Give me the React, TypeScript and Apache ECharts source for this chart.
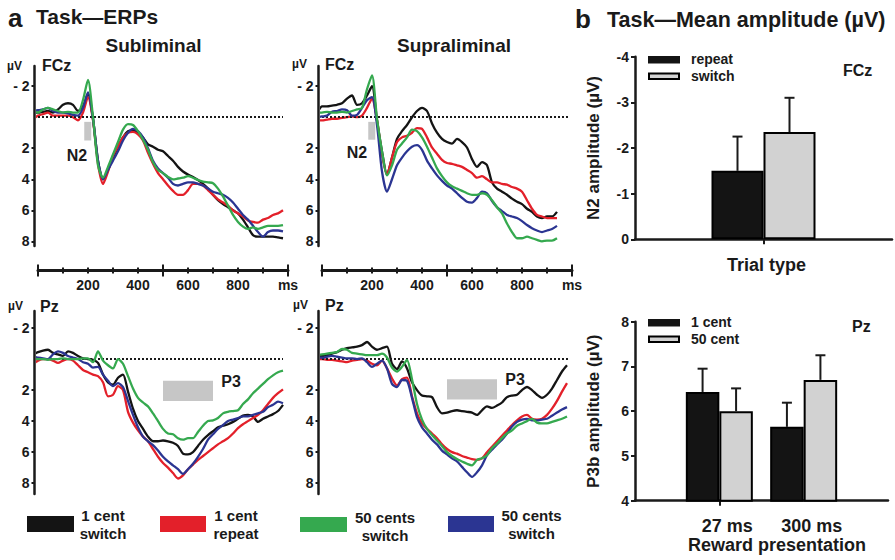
import React, { useEffect, useRef } from 'react';
import * as echarts from 'echarts';

// ---------- DATA ----------
const times = [-60, -40, -20, 0, 20, 40, 60, 80, 100, 120, 140, 160, 180, 200, 220, 240, 260, 280, 300, 320, 340, 360, 380, 400, 420, 440, 460, 480, 500, 520, 540, 560, 580, 600, 620, 640, 660, 680, 700, 720, 740, 760, 780, 800, 820, 840, 860, 880, 900, 920, 940, 960, 980];

// Subliminal, FCz
const subFczBlack = [-0.1, -0.2, -0.3, -0.3, -0.35, -0.4, -0.3, -0.5, -0.8, -0.9, -0.8, -0.4, -0.7, -1.5, 0.1, 2.8, 4.0, 3.4, 2.6, 1.9, 1.3, 0.9, 0.85, 1.0, 1.3, 1.75, 1.9, 2.1, 2.2, 2.5, 2.8, 3.2, 3.5, 3.7, 3.85, 4.05, 4.3, 4.6, 5.0, 5.35, 5.6, 5.8, 6.0, 6.2, 6.6, 7.1, 7.6, 7.7, 7.7, 7.7, 7.7, 7.75, 7.8];
const subFczRed = [0.1, 0.2, 0.1, -0.1, -0.2, -0.3, -0.1, -0.1, -0.1, -0.1, 0.0, 0.2, -0.3, -1.3, 0.2, 3.0, 4.3, 3.5, 2.5, 1.9, 1.3, 1.0, 0.95, 1.1, 1.5, 2.3, 3.0, 3.6, 4.0, 4.4, 4.75, 5.0, 5.0, 4.7, 4.3, 4.3, 4.4, 4.7, 5.0, 5.3, 5.5, 5.7, 6.0, 6.2, 6.4, 6.65, 6.75, 6.8, 6.6, 6.5, 6.3, 6.2, 6.0];
const subFczBlue = [-0.2, -0.3, -0.4, -0.45, -0.5, -0.6, -0.4, -0.3, -0.3, -0.25, -0.15, -0.1, -0.6, -1.6, 0.1, 2.8, 4.0, 3.4, 2.8, 2.2, 1.5, 1.0, 0.75, 0.9, 1.3, 2.0, 2.8, 3.3, 3.6, 3.9, 4.3, 4.4, 4.3, 4.2, 4.2, 4.3, 4.4, 4.6, 4.8, 4.9, 5.0, 5.2, 5.5, 5.9, 6.3, 6.6, 7.0, 7.4, 7.7, 7.4, 7.3, 7.3, 7.35];
const subFczGreen = [-0.3, -0.4, -0.4, -0.3, -0.5, -0.6, -0.5, -0.4, -0.3, -0.35, -0.3, -0.3, -1.1, -2.4, 0.0, 3.1, 3.9, 3.2, 2.4, 1.6, 0.8, 0.45, 0.5, 0.9, 1.45, 2.1, 2.9, 3.4, 3.6, 3.85, 4.0, 3.95, 3.9, 3.8, 3.9, 4.05, 4.15, 4.2, 4.25, 4.6, 5.1, 5.7, 6.3, 6.75, 7.05, 7.2, 7.1, 7.2, 7.1, 7.0, 7.0, 7.0, 6.95];

// Supraliminal, FCz
const supFczBlack = [0.0, -0.1, -0.3, -0.7, -0.7, -0.75, -0.8, -0.9, -1.2, -1.4, -0.8, -0.9, -1.4, -2.0, 0.2, 2.2, 3.7, 2.6, 1.4, 0.9, 0.5, 0.0, -0.4, -0.6, -0.4, 0.4, 1.0, 1.4, 1.6, 1.7, 1.4, 1.6, 1.95, 2.7, 3.2, 2.9, 3.1, 4.2, 4.6, 4.8, 5.0, 5.25, 5.45, 5.6, 5.9, 6.1, 6.4, 6.5, 6.4, 6.4, 6.1, null, null];
const supFczRed = [0.15, 0.2, 0.2, 0.2, 0.15, 0.1, 0.1, 0.05, 0.0, -0.05, 0.0, -0.1, -0.6, -1.2, 0.2, 2.4, 3.7, 2.6, 1.6, 1.3, 1.2, 1.0, 0.7, 0.75, 1.3, 1.95, 2.35, 2.75, 2.95, 3.0, 3.1, 3.2, 3.4, 3.6, 3.9, 3.8, 4.0, 4.2, 4.2, 4.3, 4.35, 4.5, 4.6, 4.8, 5.35, 5.9, 6.3, 6.4, 6.5, 6.5, 6.5, null, null];
const supFczBlue = [-0.35, -0.15, 0.0, -0.05, -0.1, -0.35, -0.4, -0.5, -0.45, -0.1, -0.15, -0.6, -1.1, -1.3, 0.5, 3.5, 4.8, 4.0, 3.1, 2.6, 2.2, 1.9, 1.8, 2.1, 2.8, 3.3, 3.75, 4.1, 4.4, 4.6, 4.9, 5.2, 5.45, 5.5, 5.2, 4.8, 4.9, 5.4, 5.8, 6.05, 6.3, 6.4, 6.5, 6.7, 6.95, 7.15, 7.3, 7.4, 7.3, 7.2, 7.0, null, null];
const supFczGreen = [-0.1, -0.2, -0.3, -0.3, -0.35, -0.3, -0.3, -0.35, -0.3, -0.4, -0.5, -0.6, -1.8, -2.7, 0.1, 2.2, 3.75, 3.1, 2.1, 1.7, 1.3, 0.8, 0.9, 1.3, 1.9, 2.6, 3.3, 3.8, 4.2, 4.45, 4.6, 4.75, 4.9, 5.0, 5.0, 4.9, 5.0, 5.35, 5.8, 6.2, 6.85, 7.4, 7.8, 7.8, 7.7, 7.8, 7.9, 8.0, 7.95, 7.95, 7.8, null, null];

// Subliminal, Pz
const subPzBlack = [-0.2, -0.25, -0.3, -0.45, -0.55, -0.6, -0.4, -0.3, -0.2, -0.5, -0.4, -0.2, -0.05, 0.0, 0.05, 0.25, 1.0, 1.5, 1.65, 1.2, 1.0, 2.1, 3.2, 4.0, 4.5, 5.0, 5.3, 5.3, 5.25, 5.3, 5.4, 5.6, 6.1, 6.15, 6.0, 5.6, 5.2, 4.9, 4.65, 4.4, 4.3, 4.2, 4.05, 3.85, 3.65, 3.6, 3.7, 4.05, 3.85, 3.7, 3.55, 3.35, 2.95];
const subPzRed = [0.05, 0.1, 0.3, 0.1, 0.0, 0.0, 0.1, 0.25, 0.1, 0.0, 0.1, 0.4, 0.7, 0.85, 1.0, 1.1, 1.5, 2.4, 2.3, 1.75, 2.0, 3.4, 4.1, 4.6, 5.0, 5.3, 5.8, 6.3, 6.7, 7.0, 7.35, 7.7, 7.5, 7.1, 6.8, 6.5, 6.25, 6.0, 5.75, 5.5, 5.3, 5.1, 4.8, 4.45, 4.2, 4.0, 3.8, 3.6, 3.3, 2.9, 2.5, 2.2, 1.95];
const subPzBlue = [-0.1, -0.1, -0.15, -0.1, -0.05, 0.0, -0.3, -0.5, -0.4, -0.2, -0.1, 0.0, 0.2, 0.3, 0.55, 0.5, 1.0, 1.4, 1.75, 1.55, 1.8, 2.7, 3.6, 4.4, 5.0, 5.3, 5.55, 5.9, 6.3, 6.6, 6.85, 7.1, 7.4, 7.1, 6.75, 6.3, 5.8, 5.2, 4.85, 4.5, 4.25, 4.0, 3.9, 3.8, 3.7, 3.7, 3.6, 3.5, 3.4, 3.1, 2.95, 2.75, 2.85];
const subPzGreen = [-0.35, -0.15, -0.05, 0.0, 0.0, 0.05, 0.0, 0.0, -0.05, 0.0, 0.0, 0.0, -0.05, -0.05, 0.2, -0.5, 0.1, 0.4, 0.6, 0.0, 0.3, 1.1, 1.9, 2.5, 2.8, 3.05, 3.5, 4.0, 4.5, 4.8, 4.85, 5.1, 5.2, 5.1, 5.1, 4.7, 4.3, 4.0, 3.95, 3.8, 3.5, 3.4, 3.35, 3.3, 2.9, 2.6, 2.2, 1.9, 1.6, 1.3, 1.05, 0.85, 0.75];

// Supraliminal, Pz
const supPzBlack = [0.0, -0.05, -0.15, -0.2, -0.25, -0.35, -0.45, -0.6, -0.7, -0.75, -0.8, -0.9, -1.1, -0.8, -0.6, -0.7, -0.8, 0.3, 0.65, 0.15, 0.6, 1.5, 2.0, 2.35, 2.4, 2.45, 3.1, 3.5, 3.45, 3.35, 3.3, 3.35, 3.4, 3.45, 3.6, 3.3, 3.05, 3.15, 3.0, 2.8, 2.45, 2.35, 2.3, 2.0, 1.8, 2.0, 2.3, 2.5, 2.3, 1.9, 1.35, 0.8, 0.4];
const supPzRed = [0.0, 0.0, 0.0, 0.0, 0.05, 0.05, 0.1, 0.15, 0.2, 0.1, 0.05, 0.0, 0.1, 0.3, 0.4, 0.1, 0.6, 1.25, 1.7, 1.3, 1.2, 2.4, 3.5, 4.15, 4.5, 4.8, 5.1, 5.5, 5.8, 6.0, 6.1, 6.25, 6.35, 6.45, 6.5, 6.4, 6.0, 5.65, 5.3, 4.95, 4.6, 4.25, 3.95, 3.7, 3.6, 3.85, 3.9, 3.85, 3.6, 3.2, 2.7, 2.1, 1.55];
const supPzBlue = [0.0, -0.05, -0.1, -0.1, -0.15, -0.2, -0.15, -0.1, -0.05, -0.05, 0.0, -0.05, 0.2, 0.5, 0.3, 0.1, 0.6, 1.6, 1.8, 1.35, 1.4, 2.5, 3.75, 4.4, 4.8, 5.2, 5.5, 5.9, 6.15, 6.4, 6.6, 6.95, 7.3, 7.6, 7.3, 6.85, 6.2, 5.85, 5.5, 5.2, 4.8, 4.35, 4.05, 3.9, 3.85, 3.95, 3.95, 3.9, 3.85, 3.65, 3.45, 3.25, 3.1];
const supPzGreen = [0.0, -0.15, -0.25, -0.3, -0.35, -0.4, -0.45, -0.65, -0.6, -0.4, -0.35, -0.3, -0.25, -0.25, -0.25, -0.35, -0.1, 0.55, 0.8, 0.5, 0.05, 1.3, 2.9, 3.9, 4.5, 4.9, 5.25, 5.6, 6.0, 6.25, 6.45, 6.6, 6.75, 6.85, 6.5, 6.4, 6.2, 5.75, 5.45, 5.1, 4.8, 4.6, 4.3, 4.15, 4.0, 3.85, 4.1, 4.15, 4.15, 4.05, 3.95, 3.85, 3.7];

const erpTicks = [-2, 2, 4, 6, 8];
const rulerLabels = [200, 400, 600, 800];

// Bar chart b (top): N2 amplitude at FCz
const n2Categories = [''];
const n2Repeat = [-1.5];
const n2Switch = [-2.35];
const n2RepeatErr = [0.75];
const n2SwitchErr = [0.75];

// Bar chart b (bottom): P3b amplitude at Pz
const p3Categories = ['27 ms', '300 ms'];
const p3OneCent = [6.43, 5.65];
const p3FiftyCent = [6.0, 6.7];
const p3OneCentErr = [0.52, 0.54];
const p3FiftyCentErr = [0.51, 0.55];

// ---------- STYLE ----------
const FF = '"Liberation Sans", Arial, Helvetica, sans-serif';
const INK = '#1a1a1a';
const C_BLACK = '#141414';
const C_RED = '#e3202a';
const C_GREEN = '#35a94f';
const C_BLUE = '#2b3592';
const C_GRAY = '#d2d2d2';

function buildOption() {
  const grids = [
    { left: 38, top: 66, width: 250, height: 180 },
    { left: 322, top: 66, width: 250, height: 180 },
    { left: 38, top: 311, width: 250, height: 183 },
    { left: 322, top: 311, width: 250, height: 183 },
    { left: 635, top: 56.7, width: 257, height: 182.6 },
    { left: 635, top: 321.7, width: 253, height: 179 },
  ].map((g) => ({ ...g, containLabel: false, outerBoundsMode: 'none' }));

  const xAxes: any[] = [];
  const dataX: number[] = [];
  const rulerAxis = (g: number, interval: number, len: number, inside: boolean, main: boolean) => ({
    gridIndex: g,
    type: 'value',
    min: 0,
    max: 1000,
    interval,
    position: 'bottom',
    offset: 24.5,
    axisLine: { show: main, onZero: false, lineStyle: { color: INK, width: 3 } },
    axisTick: { show: true, inside, length: len, lineStyle: { color: INK, width: 2 } },
    axisLabel: main
      ? {
          show: true,
          margin: 7,
          color: INK,
          fontSize: 14,
          fontWeight: 'bold',
          fontFamily: FF,
          showMinLabel: true,
          showMaxLabel: true,
          formatter: (v: number) => (v === 1000 ? 'ms' : rulerLabels.indexOf(v) >= 0 ? String(v) : ''),
        }
      : { show: false },
    splitLine: { show: false },
  });
  [0, 1].forEach((g) => {
    dataX[g] = xAxes.length;
    xAxes.push(rulerAxis(g, 100, 3, false, true));
    xAxes.push(rulerAxis(g, 100, 3, true, false));
    xAxes.push(rulerAxis(g, 500, 6, false, false));
    xAxes.push(rulerAxis(g, 500, 6, true, false));
  });
  [2, 3].forEach((g) => {
    dataX[g] = xAxes.length;
    xAxes.push({ gridIndex: g, type: 'value', min: 0, max: 1000, show: false, axisLine: { onZero: false } });
  });
  const n2X = xAxes.length;
  xAxes.push({
    gridIndex: 4,
    type: 'category',
    data: n2Categories,
    axisLine: { show: true, onZero: false, lineStyle: { color: INK, width: 2.5 } },
    axisTick: { show: true, alignWithLabel: true, length: 5, lineStyle: { color: INK, width: 2 } },
    axisLabel: { show: false },
  });
  const p3X = xAxes.length;
  xAxes.push({
    gridIndex: 5,
    type: 'category',
    boundaryGap: false,
    data: ['', ...p3Categories, ''],
    axisLine: { show: true, onZero: false, lineStyle: { color: INK, width: 2.5 } },
    axisTick: { show: true, length: 5, interval: (i: number) => i === 1, lineStyle: { color: INK, width: 2 } },
    axisLabel: { show: true, interval: 0, margin: 16, padding: [0, 0, 0, 16], color: INK, fontSize: 18, fontWeight: 'bold', fontFamily: FF },
    name: 'Reward presentation',
    nameLocation: 'middle',
    nameGap: 30,
    nameTextStyle: { color: INK, fontSize: 18, fontWeight: 'bold', fontFamily: FF, padding: [0, 0, 0, 31] },
  });

  const erpY = (g: number, min: number, max: number) => ({
    gridIndex: g,
    type: 'value',
    min,
    max,
    inverse: true,
    position: 'left',
    offset: 3.5,
    axisLine: { show: true, onZero: false, lineStyle: { color: INK, width: 2.5 } },
    axisTick: { show: true, length: 3, customValues: erpTicks, lineStyle: { color: INK, width: 2 } },
    axisLabel: {
      show: true,
      customValues: erpTicks,
      margin: 5,
      color: INK,
      fontSize: 14,
      fontWeight: 'bold',
      fontFamily: FF,
      formatter: (v: number) => (erpTicks.indexOf(v) < 0 ? '' : v < 0 ? '- ' + Math.abs(v) : String(v)),
    },
    splitLine: { show: false },
  });
  const barY = (g: number, min: number, max: number, inverse: boolean, name: string) => ({
    gridIndex: g,
    type: 'value',
    min,
    max,
    interval: 1,
    inverse,
    position: 'left',
    axisLine: { show: true, onZero: false, lineStyle: { color: INK, width: 2.5 } },
    axisTick: { show: true, length: 4, lineStyle: { color: INK, width: 2 } },
    axisLabel: { show: true, margin: 6, color: INK, fontSize: 14, fontWeight: 'bold', fontFamily: FF },
    splitLine: { show: false },
    name,
    nameLocation: 'middle',
    nameRotate: 90,
    nameGap: 33,
    nameTextStyle: { color: INK, fontSize: 17, fontWeight: 'bold', fontFamily: FF },
  });
  const yAxes = [
    erpY(0, -3.3, 8.3),
    erpY(1, -3.3, 8.3),
    erpY(2, -3.1, 8.7),
    erpY(3, -3.1, 8.7),
    barY(4, -4, 0, true, 'N2 amplitude (µV)'),
    barY(5, 4, 8, false, 'P3b amplitude (µV)'),
  ];

  const panels = [
    { g: 0, lines: [subFczBlack, subFczRed, subFczBlue, subFczGreen], box: [185, 0.3, 213, 1.5], label: 'N2', at: [156, 2.45], zeroEnd: 980 },
    { g: 1, lines: [supFczBlack, supFczRed, supFczBlue, supFczGreen], box: [185, 0.3, 213, 1.45], label: 'N2', at: [140, 2.3], zeroEnd: 985 },
    { g: 2, lines: [subPzBlack, subPzRed, subPzBlue, subPzGreen], box: [500, 1.4, 700, 2.7], label: 'P3', at: [772, 1.45], zeroEnd: 980 },
    { g: 3, lines: [supPzBlack, supPzRed, supPzBlue, supPzGreen], box: [500, 1.3, 700, 2.6], label: 'P3', at: [772, 1.3], zeroEnd: 985 },
  ];
  const lineColors = [C_BLACK, C_RED, C_BLUE, C_GREEN];
  const lineNames = ['1 cent switch', '1 cent repeat', '50 cents switch (blue)', '50 cents switch'];

  const series: any[] = [];
  panels.forEach((p) => {
    p.lines.forEach((vals, k) => {
      const s: any = {
        type: 'line',
        name: lineNames[k],
        xAxisIndex: dataX[p.g],
        yAxisIndex: p.g,
        data: times.map((t, i) => [t, vals[i]]),
        showSymbol: false,
        symbol: 'none',
        smooth: 0.25,
        clip: false,
        connectNulls: false,
        lineStyle: { color: lineColors[k], width: 2.3 },
        itemStyle: { color: lineColors[k] },
        z: 3 + k,
      };
      if (k === 0) {
        s.markArea = {
          silent: true,
          itemStyle: { color: '#c6c6c6' },
          data: [[{ xAxis: p.box[0], yAxis: p.box[1] }, { xAxis: p.box[2], yAxis: p.box[3] }]],
        };
        s.markLine = {
          silent: true,
          symbol: 'none',
          label: { show: false },
          lineStyle: { type: 'dotted', color: INK, width: 2 },
          data: [[{ coord: [0, 0] }, { coord: [p.zeroEnd, 0] }]],
        };
        s.markPoint = {
          silent: true,
          symbol: 'rect',
          symbolSize: 1,
          itemStyle: { color: 'rgba(0,0,0,0)' },
          label: { show: true, position: 'inside', color: INK, fontSize: 16, fontWeight: 'bold', fontFamily: FF, formatter: () => p.label },
          data: [{ coord: p.at, name: p.label }],
        };
      }
      series.push(s);
    });
  });

  const errorSeries = (xi: number, yi: number, data: number[][], dx: number) => ({
    type: 'custom',
    xAxisIndex: xi,
    yAxisIndex: yi,
    data,
    z: 10,
    encode: { x: 0, y: 1 },
    renderItem: (_params: any, api: any) => {
      const c = api.value(0);
      const v = api.value(1);
      const e = api.value(2);
      const p0 = api.coord([c, v]);
      const p1 = api.coord([c, v + e]);
      const x = p0[0] + dx;
      return {
        type: 'group',
        children: [
          { type: 'line', shape: { x1: x, y1: p0[1], x2: x, y2: p1[1] }, style: { stroke: INK, lineWidth: 2 } },
          { type: 'line', shape: { x1: x - 5, y1: p1[1], x2: x + 5, y2: p1[1] }, style: { stroke: INK, lineWidth: 2 } },
        ],
      };
    },
  });

  const n2W = 52;
  series.push({ type: 'bar', name: 'repeat', xAxisIndex: n2X, yAxisIndex: 4, data: n2Repeat, barWidth: n2W, barGap: '0%', itemStyle: { color: C_BLACK, borderColor: '#000', borderWidth: 2 } });
  series.push({ type: 'bar', name: 'switch', xAxisIndex: n2X, yAxisIndex: 4, data: n2Switch, barWidth: n2W, barGap: '0%', itemStyle: { color: C_GRAY, borderColor: '#000', borderWidth: 2 } });
  series.push(errorSeries(n2X, 4, n2Repeat.map((v, i) => [i, v, -n2RepeatErr[i]]), -n2W / 2));
  series.push(errorSeries(n2X, 4, n2Switch.map((v, i) => [i, v, -n2SwitchErr[i]]), n2W / 2));

  const p3W = 33.5;
  series.push({ type: 'bar', name: '1 cent', xAxisIndex: p3X, yAxisIndex: 5, data: [null, ...p3OneCent, null], barWidth: p3W, barGap: '0%', itemStyle: { color: C_BLACK, borderColor: '#000', borderWidth: 2 } });
  series.push({ type: 'bar', name: '50 cent', xAxisIndex: p3X, yAxisIndex: 5, data: [null, ...p3FiftyCent, null], barWidth: p3W, barGap: '0%', itemStyle: { color: C_GRAY, borderColor: '#000', borderWidth: 2 } });
  series.push(errorSeries(p3X, 5, p3OneCent.map((v, i) => [i + 1, v, p3OneCentErr[i]]), -p3W / 2));
  series.push(errorSeries(p3X, 5, p3FiftyCent.map((v, i) => [i + 1, v, p3FiftyCentErr[i]]), p3W / 2));

  const T = (text: string, x: number, y: number, size: number, align = 'left', lineHeight?: number) => ({
    type: 'text',
    x,
    y,
    silent: true,
    style: {
      text,
      fill: INK,
      font: `bold ${size}px ${FF}`,
      align,
      textAlign: align,
      verticalAlign: 'middle',
      textVerticalAlign: 'middle',
      lineHeight: lineHeight || size + 2,
    },
  });
  const R = (x: number, y: number, w: number, h: number, fill: string, stroke?: string) => ({
    type: 'rect',
    silent: true,
    shape: { x, y, width: w, height: h },
    style: { fill, stroke: stroke || fill, lineWidth: stroke ? 2 : 0 },
  });

  const graphic = [
    T('a', 8, 17.5, 26),
    T('Task—ERPs', 36, 16, 21),
    T('Subliminal', 153.5, 45.5, 19, 'center'),
    T('Supraliminal', 454, 45.5, 19, 'center'),
    T('µV', 7, 66, 12),
    T('FCz', 42, 65, 16),
    T('µV', 292, 64, 12),
    T('FCz', 325, 64, 16),
    T('µV', 8, 306, 12),
    T('Pz', 40, 306, 16),
    T('µV', 293, 305, 12),
    T('Pz', 325, 305, 16),
    T('b', 575, 19, 26),
    T('Task—Mean amplitude (µV)', 607, 19.5, 21.5),
    R(648, 56, 32, 7.5, C_BLACK),
    R(649, 73.5, 30, 5.5, C_GRAY, '#000'),
    T('repeat', 691, 59, 14),
    T('switch', 691, 76, 14),
    T('FCz', 843, 70, 16),
    T('Trial type', 766.5, 265, 18, 'center'),
    R(648, 319, 32, 7.5, C_BLACK),
    R(649, 336.5, 30, 5.5, C_GRAY, '#000'),
    T('1 cent', 691, 322, 14),
    T('50 cent', 691, 339, 14),
    T('Pz', 852, 326, 16),
    R(27, 516, 47, 16, C_BLACK),
    T('1 cent\nswitch', 103, 524.5, 15, 'center', 18),
    R(160, 516, 46, 16, C_RED),
    T('1 cent\nrepeat', 236, 524.5, 15, 'center', 18),
    R(300, 517, 47, 15, C_GREEN),
    T('50 cents\nswitch', 385, 526, 15, 'center', 18),
    R(448, 516, 46, 16, C_BLUE),
    T('50 cents\nswitch', 531.5, 524, 15, 'center', 18),
  ];

  return {
    animation: false,
    backgroundColor: '#ffffff',
    textStyle: { fontFamily: FF },
    grid: grids,
    xAxis: xAxes,
    yAxis: yAxes,
    series,
    graphic,
  };
}

export default function App() {
  const ref = useRef<HTMLDivElement>(null);
  useEffect(() => {
    if (!ref.current) return;
    const chart = echarts.init(ref.current, null, { renderer: 'svg' });
    chart.setOption(buildOption() as any);
    return () => chart.dispose();
  }, []);
  return (
    <div
      ref={ref}
      style={{ position: 'fixed', left: 0, top: 0, width: 895, height: 560, background: '#fff' }}
    />
  );
}
